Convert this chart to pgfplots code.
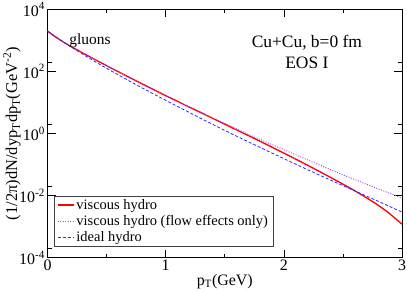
\documentclass[border=0pt]{standalone}
\usepackage{fontspec}
\setmainfont{Liberation Serif}
\usepackage{pgfplots}
\pgfplotsset{compat=1.18}
\definecolor{myviolet}{RGB}{170,60,235}
\definecolor{myblue}{RGB}{40,40,255}

\pgfplotstableread{
pt red
0.00 1995
0.05 1445
0.10 1072
0.15 812.8
0.20 631.0
0.30 389.0
0.40 242.7
0.50 153.1
0.65 77.6
0.80 39.8
1.00 16.6
1.25 5.75
1.50 1.995
1.75 0.692
2.00 0.234
2.25 0.0759
2.50 0.0234
2.625 0.0126
2.75 0.00646
2.875 0.00302
3.00 0.00120
}\redtab

\pgfplotstableread{
pt purple
0.00 1995
0.05 1445
0.10 1072
0.15 812.8
0.20 631.0
0.30 389.0
0.40 242.7
0.50 153.1
0.65 77.6
0.80 39.8
1.00 16.6
1.25 5.89
1.50 2.09
1.75 0.776
2.00 0.302
2.25 0.1175
2.50 0.0468
2.75 0.0195
3.00 0.00832
}\purpletab

\pgfplotstableread{
pt blue
0.00 1995
0.05 1445
0.10 1072
0.15 803.5
0.20 609.5
0.30 354.8
0.40 208.9
0.50 125.9
0.65 60.3
0.80 29.5
1.00 11.75
1.25 3.80
1.50 1.259
1.75 0.437
2.00 0.155
2.25 0.0562
2.50 0.0209
2.75 0.00794
3.00 0.00295
}\bluetab

\begin{document}
\begin{tikzpicture}
\begin{axis}[
  scale only axis, width=354.5bp, height=248.4bp,
  xmin=0, xmax=3, ymode=log, ymin=1e-4, ymax=1e4,
  xtick={0,1,2,3}, xticklabels={0,1,2,3},
  minor xtick={0.5,1.5,2.5},
  ytick={1e-4,1e-2,1,1e2,1e4},
  yticklabels={10\textsuperscript{-4},10\textsuperscript{-2},10\textsuperscript{0},10\textsuperscript{2},10\textsuperscript{4}},
  minor ytick={2e-4,2e-2,2,2e2},
  tick align=inside, major tick length=8bp, minor tick length=4bp,
  axis line style={line width=0.8bp},
  every tick/.style={black, line width=0.6bp},
  ticklabel style={font=\fontsize{16}{16}\selectfont},
  xticklabel style={yshift=1.5bp},
  yticklabel style={xshift=1bp},
  xlabel={p\textsubscript{T}(GeV)},
  xlabel style={font=\fontsize{16}{17}\selectfont, at={(axis description cs:0.5,0)}, anchor=north, yshift=-13bp},
  ylabel={(1/2π)dN/dyp\textsubscript{T}dp\textsubscript{T}(GeV\textsuperscript{-2})},
  ylabel style={font=\fontsize{16.5}{17}\selectfont, at={(axis description cs:-0.10,0.5)}, anchor=center, rotate=0},
  legend style={at={(0.018,0.044)}, anchor=south west, font=\fontsize{14.5}{15}\selectfont,
    draw=black!75, line width=0.6bp, row sep=0.5bp, inner xsep=3bp, inner ysep=1.5bp},
  legend cell align=left,
  legend image code/.code={\draw[#1] (0bp,0bp) -- (16bp,0bp);},
]
\addplot[red, line width=1.3bp, smooth] table[x=pt, y=red] {\redtab};
\addlegendentry{viscous hydro}
\addplot[myviolet, line width=0.9bp, dash pattern=on 1bp off 1.5bp, smooth] table[x=pt, y=purple] {\purpletab};
\addlegendentry{viscous hydro (flow effects only)}
\addplot[myblue, line width=0.8bp, dash pattern=on 3bp off 2bp, smooth] table[x=pt, y=blue] {\bluetab};
\addlegendentry{ideal hydro}
\node[font=\fontsize{15.5}{16}\selectfont] at (axis cs:0.36,980) {gluons};
\node[font=\fontsize{17.5}{18}\selectfont] at (axis cs:2.195,830) {Cu+Cu, b=0 fm};
\node[font=\fontsize{17.5}{18}\selectfont] at (axis cs:2.195,186) {EOS I};
\end{axis}
\pgfresetboundingbox
\path (-47.5bp,-34.3bp) rectangle (359.5bp,257.7bp);
\end{tikzpicture}
\end{document}
